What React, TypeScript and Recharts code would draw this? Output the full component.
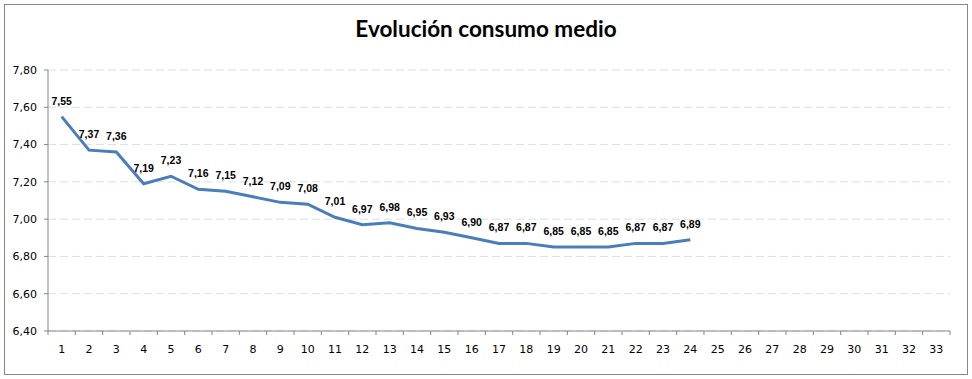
import React from 'react';
import { LineChart, Line, XAxis, YAxis, CartesianGrid, LabelList } from 'recharts';

const categories = Array.from({ length: 33 }, (_, i) => String(i + 1));
const consumo = [
  7.55, 7.37, 7.36, 7.19, 7.23, 7.16, 7.15, 7.12, 7.09, 7.08, 7.01, 6.97,
  6.98, 6.95, 6.93, 6.9, 6.87, 6.87, 6.85, 6.85, 6.85, 6.87, 6.87, 6.89,
];
const yTicks = [6.4, 6.6, 6.8, 7.0, 7.2, 7.4, 7.6, 7.8];

const data = categories.map((c, i) => ({ x: c, v: i < consumo.length ? consumo[i] : null }));

const W = 972;
const H = 379;
const PLOT_LEFT = 48;
const PLOT_RIGHT = 950;
const BAND = (PLOT_RIGHT - PLOT_LEFT) / categories.length;

const fmt = (v: any) => (v == null ? '' : Number(v).toFixed(2).replace('.', ','));

// Excel-style category axis: ticks between categories, labels centered
const XTick = (props: any) => {
  const { x, y, payload, index } = props;
  const last = index === categories.length - 1;
  return (
    <g>
      <line x1={x - BAND / 2} y1={y} x2={x - BAND / 2} y2={y + 4} stroke="#868686" />
      {last && <line x1={x + BAND / 2} y1={y} x2={x + BAND / 2} y2={y + 4} stroke="#868686" />}
      <text x={x} y={y + 22} textAnchor="middle" fontSize={11} fill="#000" fontFamily="DejaVu Sans">
        {payload.value}
      </text>
    </g>
  );
};

export default function App() {
  return (
    <div style={{ position: 'absolute', left: 0, top: 0, width: W, height: H, background: '#fff' }}>
      <div
        style={{
          position: 'absolute',
          left: 4,
          top: 4,
          width: 962,
          height: 369,
          border: '1px solid #888',
        }}
      />
      <div
        style={{
          position: 'absolute',
          left: 0,
          top: 15,
          width: W,
          textAlign: 'center',
          fontFamily: 'Lato',
          fontWeight: 'bold',
          fontSize: 22.5,
          color: '#000',
        }}
      >
        Evolución consumo medio
      </div>
      <div style={{ position: 'absolute', left: 0, top: 0 }}>
        <LineChart width={W} height={H} data={data} margin={{ top: 70, right: W - PLOT_RIGHT, left: 0, bottom: 18 }}>
          <CartesianGrid vertical={false} stroke="#D6DFEA" strokeDasharray="8 4" />
          <XAxis
            dataKey="x"
            height={30}
            interval={0}
            padding={{ left: BAND / 2, right: BAND / 2 }}
            tickLine={false}
            tickSize={0}
            tickMargin={0}
            axisLine={{ stroke: '#868686' }}
            tick={<XTick />}
          />
          <YAxis
            width={PLOT_LEFT}
            domain={[6.4, 7.8]}
            ticks={yTicks}
            tickFormatter={fmt}
            tickSize={4}
            tickMargin={7}
            axisLine={{ stroke: '#868686' }}
            tickLine={{ stroke: '#868686' }}
            tick={{ fill: '#000', fontSize: 11, fontFamily: 'DejaVu Sans' }}
          />
          <Line
            type="linear"
            dataKey="v"
            stroke="#4A7EBB"
            strokeWidth={3}
            dot={false}
            isAnimationActive={false}
          >
            <LabelList
              dataKey="v"
              position="top"
              offset={12}
              formatter={fmt}
              style={{ fontFamily: 'Liberation Sans', fontWeight: 'bold', fontSize: 10.5, fill: '#000' }}
            />
          </Line>
        </LineChart>
      </div>
    </div>
  );
}
